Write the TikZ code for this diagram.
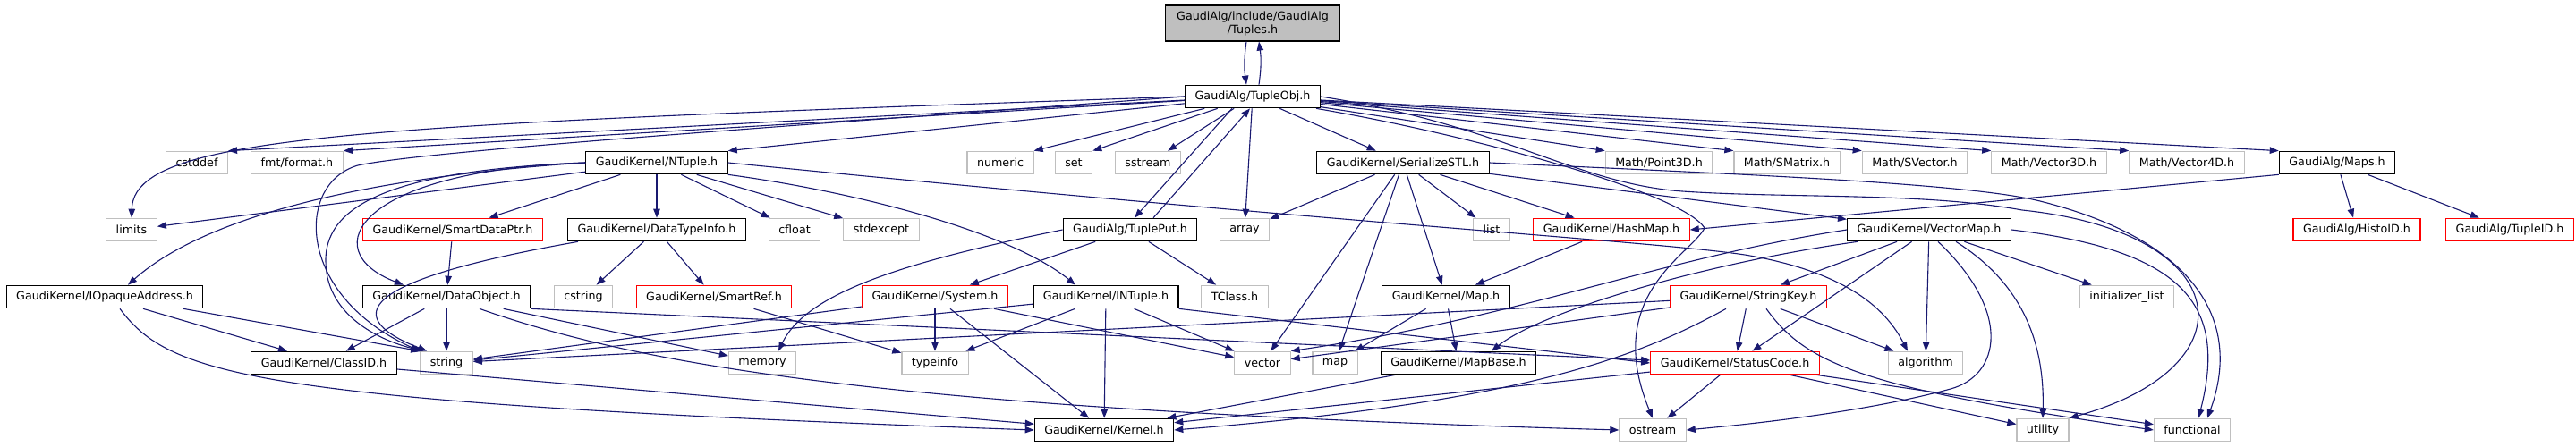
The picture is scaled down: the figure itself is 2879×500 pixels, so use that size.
\documentclass[tikz,border=0pt]{standalone}
\usepackage{fontspec}
\setmainfont{DejaVu Sans}
\usetikzlibrary{arrows.meta}
\definecolor{edgeblue}{RGB}{25,25,112}
\definecolor{sysgray}{RGB}{191,191,191}
\begin{document}
\begin{tikzpicture}[x=1pt,y=-1pt,
  box/.style={rectangle,inner xsep=11pt,inner ysep=0pt,minimum height=25.5pt,line width=1.2pt,font=\fontsize{12.7}{15}\selectfont},
  doc/.style={box,draw=black},
  sys/.style={box,draw=sysgray},
  trunc/.style={box,draw=red},
  incl/.style={draw=edgeblue,line width=1.1pt,-{Triangle[length=10pt,width=7.5pt]}}]
\useasboundingbox (0,0) rectangle (2879,500);
\node[doc,fill=sysgray,align=center,minimum width=195pt,minimum height=40pt] at (1400,26) (tuples) {GaudiAlg/include/GaudiAlg\\/Tuples.h};
\node[doc] at (1400,108) (tupleobj) {GaudiAlg/TupleObj.h};
\node[sys] at (220,182) (cstddef) {cstddef};
\node[sys] at (332,182) (fmtformat) {fmt/format.h};
\node[doc] at (734,182) (ntuple) {GaudiKernel/NTuple.h};
\node[sys] at (1118,182) (numeric) {numeric};
\node[sys] at (1200,182) (set) {set};
\node[sys] at (1283,182) (sstream) {sstream};
\node[doc] at (1568,182) (serializestl) {GaudiKernel/SerializeSTL.h};
\node[sys] at (1854,182) (point3d) {Math/Point3D.h};
\node[sys] at (1997,182) (smatrix) {Math/SMatrix.h};
\node[sys] at (2140,182) (svector) {Math/SVector.h};
\node[sys] at (2290,182) (vector3d) {Math/Vector3D.h};
\node[sys] at (2444,182) (vector4d) {Math/Vector4D.h};
\node[doc] at (2612,182) (maps) {GaudiAlg/Maps.h};
\node[sys] at (147,257) (limits) {limits};
\node[trunc] at (506,257) (smartdataptr) {GaudiKernel/SmartDataPtr.h};
\node[doc] at (734,257) (datatypeinfo) {GaudiKernel/DataTypeInfo.h};
\node[sys] at (888,257) (cfloat) {cfloat};
\node[sys] at (985,257) (stdexcept) {stdexcept};
\node[doc] at (1263,257) (tupleput) {GaudiAlg/TuplePut.h};
\node[sys] at (1391,257) (array) {array};
\node[sys] at (1667,257) (list) {list};
\node[trunc] at (1801,257) (hashmap) {GaudiKernel/HashMap.h};
\node[doc] at (2156,257) (vectormap) {GaudiKernel/VectorMap.h};
\node[trunc] at (2634,257) (histoid) {GaudiAlg/HistoID.h};
\node[trunc] at (2805,257) (tupleid) {GaudiAlg/TupleID.h};
\node[doc] at (117,332) (iopaque) {GaudiKernel/IOpaqueAddress.h};
\node[doc] at (499,332) (dataobject) {GaudiKernel/DataObject.h};
\node[sys] at (652,332) (cstring) {cstring};
\node[trunc] at (798,332) (smartref) {GaudiKernel/SmartRef.h};
\node[trunc] at (1045,332) (system) {GaudiKernel/System.h};
\node[doc] at (1236,332) (intuple) {GaudiKernel/INTuple.h};
\node[sys] at (1380,332) (tclass) {TClass.h};
\node[doc] at (1616,332) (mapf) {GaudiKernel/Map.h};
\node[trunc] at (1954,332) (stringkey) {GaudiKernel/StringKey.h};
\node[sys] at (2377,332) (initlist) {initializer\_list};
\node[doc] at (362,406) (classid) {GaudiKernel/ClassID.h};
\node[sys] at (499,406) (string) {string};
\node[sys] at (852,406) (memory) {memory};
\node[sys] at (1045,406) (typeinfo) {typeinfo};
\node[sys] at (1411,406) (vector) {vector};
\node[sys] at (1492,406) (map) {map};
\node[doc] at (1630,406) (mapbase) {GaudiKernel/MapBase.h};
\node[trunc] at (1939,406) (statuscode) {GaudiKernel/StatusCode.h};
\node[sys] at (2152,406) (algorithm) {algorithm};
\node[doc] at (1234,481) (kernel) {GaudiKernel/Kernel.h};
\node[sys] at (1847,481) (ostream) {ostream};
\node[sys] at (2283,481) (utility) {utility};
\node[sys] at (2450,481) (functional) {functional};
\draw[incl] ([xshift=-7pt]tuples.south) to[bend right=8] ([xshift=-7pt]tupleobj.north);
\draw[incl] ([xshift=7pt]tupleobj.north) to[bend right=8] ([xshift=7pt]tuples.south);
\draw[incl] (tupleobj.west) .. controls (400,140) and (150,150) .. (limits.north);
\draw[incl] (tupleobj) -- (cstddef.north east);
\draw[incl] (tupleobj) -- (fmtformat.north east);
\draw[incl] (tupleobj) -- (ntuple.north east);
\draw[incl] (tupleobj.west) .. controls (900,140) and (480,168) .. (400,185) .. controls (330,205) and (330,330) .. (string.north west);
\draw[incl] (tupleobj) -- (numeric.north east);
\draw[incl] (tupleobj) -- (set.north east);
\draw[incl] (tupleobj) -- ([xshift=-15pt]sstream.north east);
\draw[incl] ([xshift=-23pt]tupleobj.south) -- ([xshift=5pt]tupleput.north);
\draw[incl] ([xshift=26pt]tupleput.north) -- ([xshift=-3pt]tupleobj.south);
\draw[incl] (tupleobj) -- (array);
\draw[incl] (tupleobj) -- (serializestl);
\draw[incl] (tupleobj) -- (point3d.north west);
\draw[incl] (tupleobj) -- (smatrix.north west);
\draw[incl] (tupleobj) -- (svector.north west);
\draw[incl] (tupleobj) -- (vector3d.north west);
\draw[incl] (tupleobj) -- (vector4d.north west);
\draw[incl] (tupleobj) -- (maps.north west);
\draw[incl] ([xshift=-5pt]tupleobj.south east) .. controls (1640,150) and (1880,215) .. (1905,255) .. controls (1890,285) and (1790,330) .. (ostream.north);
\draw[incl] (tupleobj.east) .. controls (1680,140) and (1760,205) .. (1880,214) .. controls (2000,222) and (2150,215) .. (2260,235) .. controls (2500,260) and (2520,410) .. (utility.north east);
\draw[incl] (ntuple) -- (smartdataptr);
\draw[incl] (ntuple) -- (datatypeinfo);
\draw[incl] (ntuple) -- (cfloat);
\draw[incl] (ntuple) -- (stdexcept);
\draw[incl] (ntuple) -- (limits);
\draw[incl] (ntuple.west) .. controls (380,200) and (220,250) .. ([xshift=26pt]iopaque.north);
\draw[incl] (ntuple.west) .. controls (450,190) and (365,225) .. (364,290) .. controls (363,350) and (420,380) .. ([xshift=4pt]string.north west);
\draw[incl] (ntuple.west) .. controls (400,190) and (350,280) .. ([xshift=-48pt]dataobject.north);
\draw[incl] (ntuple.south east) .. controls (960,215) and (1130,260) .. ([xshift=-34pt]intuple.north);
\draw[incl] (ntuple.east) .. controls (1500,250) and (1850,270) .. (1950,285) .. controls (2070,305) and (2110,350) .. ([xshift=-20pt]algorithm.north);
\draw[incl] (smartdataptr) -- (dataobject);
\draw[incl] ([xshift=-88pt]datatypeinfo.south) .. controls (420,310) and (370,350) .. ([xshift=8pt]string.north west);
\draw[incl] (datatypeinfo) -- (cstring);
\draw[incl] (datatypeinfo) -- (smartref);
\draw[incl] (smartref) -- (typeinfo);
\draw[incl] (tupleput.west) .. controls (1000,295) and (900,330) .. ([xshift=18pt]memory.north);
\draw[incl] (tupleput) -- (system);
\draw[incl] (tupleput) -- (tclass);
\draw[incl] (system) -- (string);
\draw[incl] (system) -- (typeinfo);
\draw[incl] (system) -- (kernel);
\draw[incl] (system) -- (vector);
\draw[incl] (intuple) -- (string);
\draw[incl] (intuple) -- (typeinfo);
\draw[incl] (intuple) -- (kernel);
\draw[incl] (intuple) -- (vector);
\draw[incl] (intuple.south east) -- (statuscode.west);
\draw[incl] (dataobject) -- (classid);
\draw[incl] (dataobject) -- (string);
\draw[incl] (dataobject) -- (memory);
\draw[incl] (dataobject.south east) -- ([yshift=3pt]statuscode.west);
\draw[incl] ([xshift=37pt]dataobject.south) .. controls (720,410) and (1000,458) .. (ostream.west);
\draw[incl] ([xshift=43pt]iopaque.south) -- ([xshift=-41pt]classid.north);
\draw[incl] ([xshift=88pt]iopaque.south) -- (string.north west);
\draw[incl] ([xshift=17pt]iopaque.south) .. controls (190,420) and (280,450) .. (kernel.west);
\draw[incl] (classid) -- (kernel);
\draw[incl] (serializestl) -- (array);
\draw[incl] (serializestl) -- (vector);
\draw[incl] (serializestl) -- (map);
\draw[incl] (serializestl) -- (mapf);
\draw[incl] (serializestl) -- (list);
\draw[incl] (serializestl) -- (hashmap);
\draw[incl] (serializestl) -- (vectormap);
\draw[incl] (serializestl.east) .. controls (1950,195) and (2200,205) .. (2280,225) .. controls (2440,265) and (2510,350) .. ([xshift=17pt]functional.north);
\draw[incl] (maps.south west) -- (hashmap.east);
\draw[incl] (maps) -- (histoid);
\draw[incl] (maps) -- (tupleid);
\draw[incl] (hashmap) -- (mapf);
\draw[incl] (mapf) -- (map);
\draw[incl] (mapf) -- (mapbase);
\draw[incl] (mapbase) -- (kernel);
\draw[incl] (vectormap.west) .. controls (1850,290) and (1700,355) .. (vector.north east);
\draw[incl] ([xshift=-80pt]vectormap.south) .. controls (1900,295) and (1720,350) .. ([xshift=37pt]mapbase.north);
\draw[incl] (vectormap) -- (stringkey);
\draw[incl] (vectormap) -- (statuscode);
\draw[incl] (vectormap) -- (algorithm);
\draw[incl] ([xshift=10pt]vectormap.south) .. controls (2250,350) and (2235,420) .. (2180,435) .. controls (2080,462) and (1950,475) .. (ostream.east);
\draw[incl] ([xshift=30pt]vectormap.south) .. controls (2265,320) and (2285,390) .. (utility.north);
\draw[incl] (vectormap) -- (initlist);
\draw[incl] (vectormap.east) .. controls (2440,280) and (2490,340) .. ([xshift=7pt]functional.north);
\draw[incl] (stringkey) -- (string);
\draw[incl] (stringkey) -- (vector);
\draw[incl] (stringkey) -- (statuscode);
\draw[incl] ([xshift=-25pt]stringkey.south) .. controls (1830,400) and (1700,450) .. (kernel.east);
\draw[incl] (stringkey) -- (algorithm);
\draw[incl] ([xshift=20pt]stringkey.south) .. controls (2020,410) and (2090,435) .. (functional.west);
\draw[incl] (statuscode) -- (ostream);
\draw[incl] (statuscode) -- (kernel);
\draw[incl] (statuscode) -- (utility);
\draw[incl] (statuscode) -- (functional);
\end{tikzpicture}
\end{document}
